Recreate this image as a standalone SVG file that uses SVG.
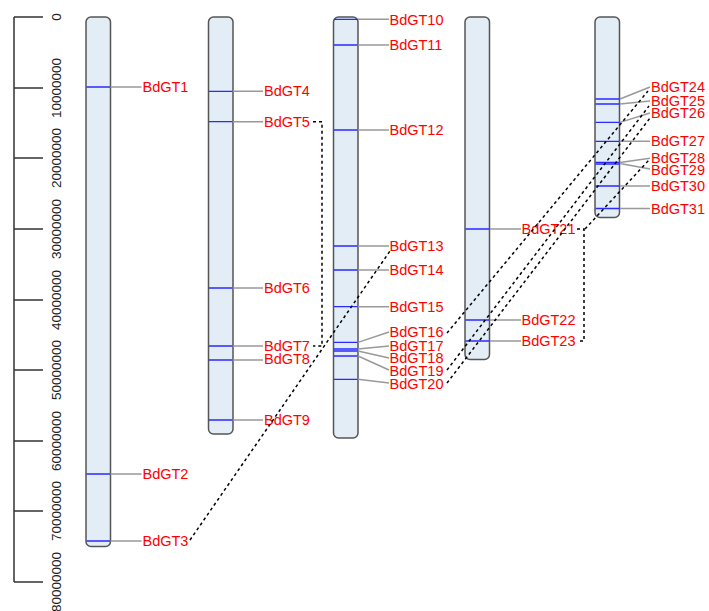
<svg xmlns="http://www.w3.org/2000/svg" width="709" height="611" viewBox="0 0 709 611">
<style>
.ax{stroke:#333;stroke-width:1.5;fill:none}
.axt{font-family:"Liberation Sans",Arial,sans-serif;font-size:13.5px;fill:#222;text-anchor:middle}
.chr{fill:#e2edf6;stroke:#555;stroke-width:1.5}
.mk{stroke:#2a2aff;stroke-width:1.3}
.ll{stroke:#999;stroke-width:1.4;fill:none}
.lb{font-family:"Liberation Sans",Arial,sans-serif;font-size:14.5px;fill:#ff0000;dominant-baseline:central}
.dl{stroke:#000;stroke-width:1.5;stroke-dasharray:3,3;fill:none}
</style>
<rect width="709" height="611" fill="#fff"/>
<g id="axis">
<path class="ax" d="M14,17V582M14,17H43M14,88H43M14,158H43M14,229H43M14,300H43M14,370H43M14,441H43M14,511H43M14,582H43"/>
<text class="axt" x="61" y="17" transform="rotate(-90 61 17)">0</text>
<text class="axt" x="61" y="88" transform="rotate(-90 61 88)">10000000</text>
<text class="axt" x="61" y="158" transform="rotate(-90 61 158)">20000000</text>
<text class="axt" x="61" y="229" transform="rotate(-90 61 229)">30000000</text>
<text class="axt" x="61" y="300" transform="rotate(-90 61 300)">40000000</text>
<text class="axt" x="61" y="370" transform="rotate(-90 61 370)">50000000</text>
<text class="axt" x="61" y="441" transform="rotate(-90 61 441)">60000000</text>
<text class="axt" x="61" y="511" transform="rotate(-90 61 511)">70000000</text>
<text class="axt" x="61" y="582" transform="rotate(-90 61 582)">80000000</text>
</g>
<g id="chr1">
<rect class="chr" x="86" y="17" width="24.5" height="529.5" rx="5"/>
<path class="mk" d="M86.5,87H110M86.5,474H110M86.5,541H110"/>
<path class="ll" d="M110.5,87H141.5M110.5,474H141.5M110.5,541H141.5"/>
<text class="lb" x="142.5" y="87">BdGT1</text>
<text class="lb" x="142.5" y="474">BdGT2</text>
<text class="lb" x="142.5" y="541">BdGT3</text>
</g>
<g id="chr2">
<rect class="chr" x="208.5" y="17" width="24.5" height="417" rx="5"/>
<path class="mk" d="M209,91.3H232.5M209,121.7H232.5M209,288H232.5M209,346H232.5M209,360H232.5M209,420H232.5"/>
<path class="ll" d="M233,91.3H263M233,121.7H263M233,288H263M233,346H263M233,360H263M233,420H263"/>
<text class="lb" x="264" y="91.3">BdGT4</text>
<text class="lb" x="264" y="121.7">BdGT5</text>
<text class="lb" x="264" y="288">BdGT6</text>
<text class="lb" x="264" y="346">BdGT7</text>
<text class="lb" x="264" y="359">BdGT8</text>
<text class="lb" x="264" y="420">BdGT9</text>
</g>
<g id="chr3">
<rect class="chr" x="333.5" y="17" width="24.5" height="421" rx="5"/>
<path class="mk" d="M334,19.3H357.5M334,45H357.5M334,130H357.5M334,246H357.5M334,270H357.5M334,306.7H357.5M334,342.3H357.5M334,349H357.5M334,351H357.5M334,356H357.5M334,379.3H357.5"/>
<path class="ll" d="M358,19.3H389M358,45H389M358,130H389M358,246H389M358,270H389M358,306.7H389M358,342.3L389,332M358,349L389,346M358,351L389,358M358,356L389,370M358,379.3L389,383"/>
<text class="lb" x="389.5" y="20">BdGT10</text>
<text class="lb" x="389.5" y="45">BdGT11</text>
<text class="lb" x="389.5" y="130">BdGT12</text>
<text class="lb" x="389.5" y="246">BdGT13</text>
<text class="lb" x="389.5" y="270">BdGT14</text>
<text class="lb" x="389.5" y="306.7">BdGT15</text>
<text class="lb" x="389.5" y="332">BdGT16</text>
<text class="lb" x="389.5" y="345.5">BdGT17</text>
<text class="lb" x="389.5" y="358">BdGT18</text>
<text class="lb" x="389.5" y="370.5">BdGT19</text>
<text class="lb" x="389.5" y="383.5">BdGT20</text>
</g>
<g id="chr4">
<rect class="chr" x="465" y="17" width="24.5" height="342.5" rx="5"/>
<path class="mk" d="M465.5,229H489M465.5,320H489M465.5,341H489"/>
<path class="ll" d="M490,229H521M490,320H521M490,341H521"/>
<text class="lb" x="521.5" y="229">BdGT21</text>
<text class="lb" x="521.5" y="320">BdGT22</text>
<text class="lb" x="521.5" y="341">BdGT23</text>
</g>
<g id="chr5">
<rect class="chr" x="595" y="17" width="24.5" height="200.5" rx="5"/>
<path class="mk" d="M595.5,99H619M595.5,104H619M595.5,122.3H619M595.5,141.3H619M595.5,162.3H619M595.5,164H619M595.5,186H619M595.5,208.5H619"/>
<path class="ll" d="M620,99L650,87M620,104L650,101M620,122.3L650,113M620,141.3H650M620,162.5L650,158.3M620,163.5L650,169M620,186H650M620,208.5H650"/>
<text class="lb" x="651" y="87">BdGT24</text>
<text class="lb" x="651" y="100.5">BdGT25</text>
<text class="lb" x="651" y="113">BdGT26</text>
<text class="lb" x="651" y="141">BdGT27</text>
<text class="lb" x="651" y="158.3">BdGT28</text>
<text class="lb" x="651" y="169.5">BdGT29</text>
<text class="lb" x="651" y="186">BdGT30</text>
<text class="lb" x="651" y="208.5">BdGT31</text>
</g>
<g id="connectors">
<path class="dl" d="M313,121.7H322V346H313"/>
<path class="dl" d="M190,540L390,251"/>
<path class="dl" d="M447,333L648,91"/>
<path class="dl" d="M447,370L649,106"/>
<path class="dl" d="M447,383L650,118"/>
<path class="dl" d="M577,229H584V341H577"/>
<path class="dl" d="M585,229L649,160"/>
</g>
</svg>
